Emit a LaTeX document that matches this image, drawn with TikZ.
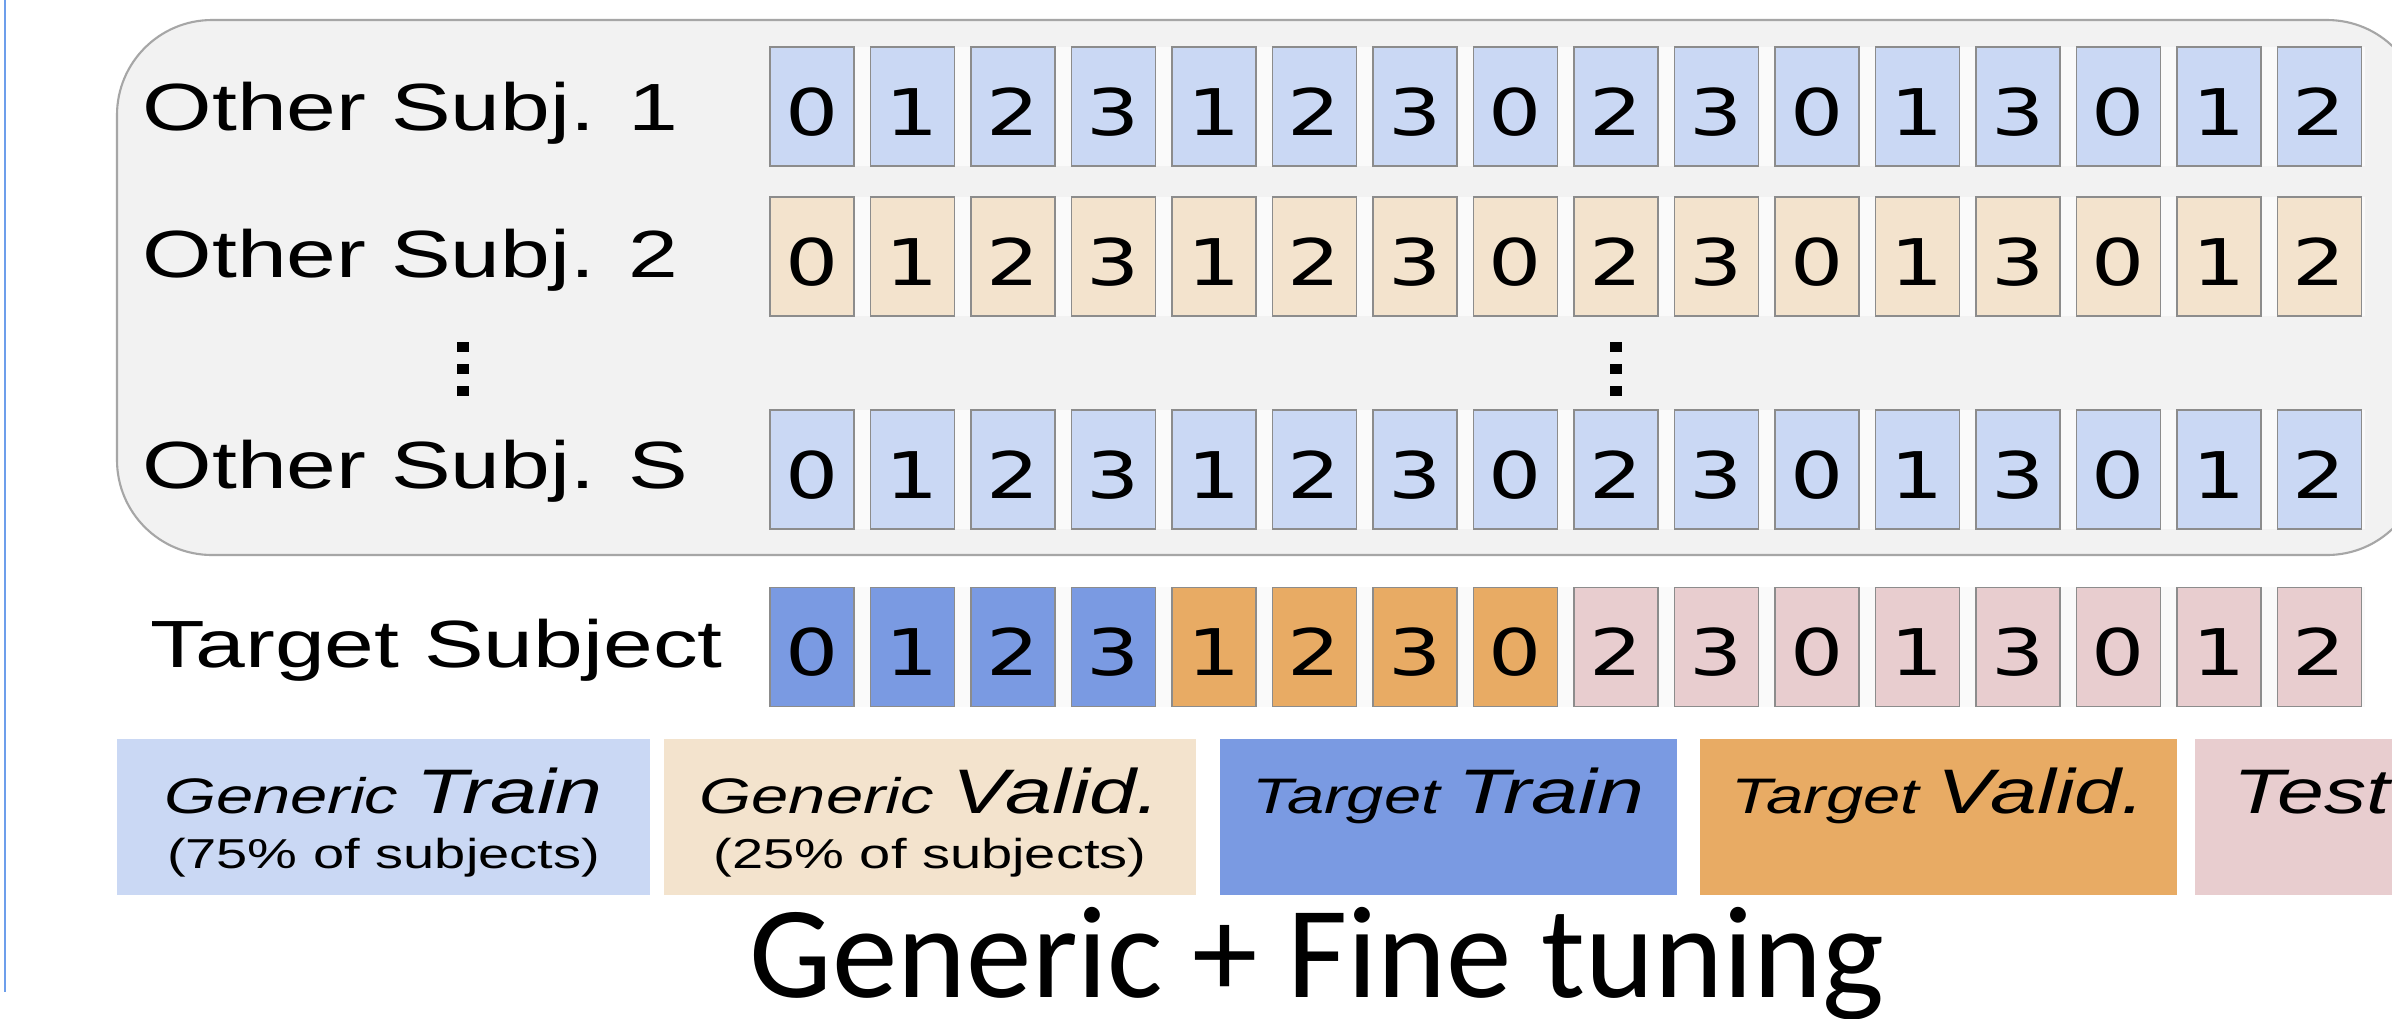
\documentclass[tikz,border=0pt]{standalone}
\usepackage{fontspec}
\newfontfamily\lblfont[FakeStretch=1.34]{Liberation Sans}
\newfontfamily\digfont[FakeStretch=1.3]{DejaVu Sans}
\newfontfamily\titlefont{Carlito}
\newcommand{\legsm}{\fontsize{14.2}{17}\selectfont}
\newcommand{\leglg}{\fontsize{17.9}{21}\selectfont}
\definecolor{boxgray}{HTML}{F2F2F2}
\definecolor{boxline}{HTML}{A6A6A6}
\definecolor{cellline}{HTML}{8C8C8C}
\definecolor{gapwhite}{HTML}{FAFAFA}
\definecolor{genblue}{HTML}{CAD8F4}
\definecolor{genbeige}{HTML}{F3E3CD}
\definecolor{tgtblue}{HTML}{7A9AE2}
\definecolor{tgtorange}{HTML}{E8AB64}
\definecolor{testpink}{HTML}{E8CDCF}
\definecolor{sideblue}{HTML}{6D9EEB}
\tikzset{
  cell/.style={draw=cellline, line width=0.5pt, minimum width=0.84cm,
    minimum height=1.19cm, inner sep=0pt, text height=16.3pt, text depth=0pt,
    font=\digfont\fontsize{18.3}{20}\selectfont},
  rowlabel/.style={anchor=base west, inner sep=0pt,
    font=\lblfont\fontsize{19}{23}\selectfont},
  legbox/.style={minimum height=1.56cm, inner sep=0pt},
  legtext/.style={anchor=base, inner sep=0pt, font=\lblfont\itshape},
  dot/.style={fill=black, inner sep=0pt, minimum width=0.12cm, minimum height=0.10cm}
}

\begin{document}
\begin{tikzpicture}
\clip (0,0) rectangle (23.92,-10.18);
\fill[white] (0,0) rectangle (23.92,-10.18);
\draw[sideblue, line width=0.6pt] (0.05,0) -- (0.05,-9.92);

% other subjects
\draw[fill=boxgray, draw=boxline, line width=0.6pt, rounded corners=0.95cm]
  (1.17,-0.20) rectangle (24.22,-5.55);

\node[rowlabel] (subj-1) at (1.42,-1.30) {Other Subj. 1};
\node[rowlabel] (subj-2) at (1.42,-2.77) {Other Subj. 2};
\node[rowlabel] (subj-s) at (1.42,-4.88) {Other Subj. S};

\node[dot] (ldot-1) at (4.63,-3.47) {};
\node[dot] (ldot-2) at (4.63,-3.69) {};
\node[dot] (ldot-3) at (4.63,-3.91) {};
\node[dot] (rdot-1) at (16.16,-3.47) {};
\node[dot] (rdot-2) at (16.16,-3.69) {};
\node[dot] (rdot-3) at (16.16,-3.91) {};

\fill[gapwhite] (7.70,-0.47) rectangle (23.65,-1.66);
\fill[gapwhite] (7.70,-1.97) rectangle (23.65,-3.16);
\fill[gapwhite] (7.70,-4.10) rectangle (23.65,-5.29);
\foreach \d [count=\i from 0] in {0,1,2,3,1,2,3,0,2,3,0,1,3,0,1,2}{
  \node[cell, fill=genblue]  (one-\i)  at ({8.12+1.005*\i},-1.065) {\d};
  \node[cell, fill=genbeige] (two-\i)  at ({8.12+1.005*\i},-2.565) {\d};
  \node[cell, fill=genblue]  (last-\i) at ({8.12+1.005*\i},-4.695) {\d};
}

% target subject
\node[rowlabel] (target) at (1.50,-6.67) {Target Subject};
\fill[gapwhite] (7.70,-5.87) rectangle (23.65,-7.07);
\foreach \d/\c [count=\i from 0] in {0/tgtblue,1/tgtblue,2/tgtblue,3/tgtblue,
    1/tgtorange,2/tgtorange,3/tgtorange,0/tgtorange,2/testpink,3/testpink,
    0/testpink,1/testpink,3/testpink,0/testpink,1/testpink,2/testpink}{
  \node[cell, fill=\c] (tgt-\i) at ({8.12+1.005*\i},-6.47) {\d};
}

% legend
\node[legbox, fill=genblue,   minimum width=5.33cm] (gtrain) at (3.835,-8.17) {};
\node[legbox, fill=genbeige,  minimum width=5.32cm] (gvalid) at (9.30,-8.17) {};
\node[legbox, fill=tgtblue,   minimum width=4.57cm] (ttrain) at (14.485,-8.17) {};
\node[legbox, fill=tgtorange, minimum width=4.77cm] (tvalid) at (19.385,-8.17) {};
\node[legbox, fill=testpink,  minimum width=2.33cm] (test)   at (23.115,-8.17) {};

\node[legtext] (gtrain-a) at (3.835,-8.13) {\legsm Generic \leglg Train};
\node[legtext, font=\lblfont\fontsize{11.9}{14}\selectfont] (gtrain-b) at (3.835,-8.68) {(75\% of subjects)};
\node[legtext] (gvalid-a) at (9.30,-8.13) {\legsm Generic \leglg Valid.};
\node[legtext, font=\lblfont\fontsize{11.9}{14}\selectfont] (gvalid-b) at (9.30,-8.68) {(25\% of subjects)};
\node[legtext] (ttrain-a) at (14.485,-8.13) {\legsm Target \leglg Train};
\node[legtext] (tvalid-a) at (19.385,-8.13) {\legsm Target \leglg Valid.};
\node[legtext] (test-a) at (23.115,-8.13) {\leglg Test};

\node[anchor=base, inner sep=0pt, font=\titlefont\fontsize{37.3}{44}\selectfont]
  (title) at (13.17,-9.97) {Generic + Fine tuning};
\end{tikzpicture}
\end{document}
